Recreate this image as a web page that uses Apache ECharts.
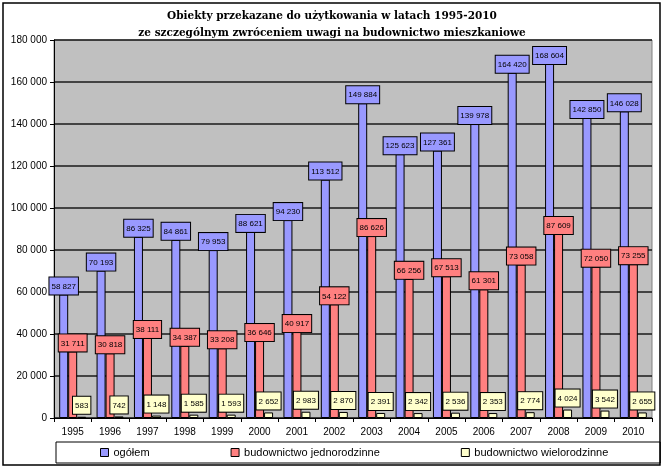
<!DOCTYPE html>
<html><head><meta charset="utf-8">
<script src="https://cdn.jsdelivr.net/npm/echarts@6/dist/echarts.min.js"></script>
<style>html,body{margin:0;padding:0;background:#fff}#c{width:664px;height:470px}</style>
</head><body><div id="c"></div>
<script>
var years = ['1995','1996','1997','1998','1999','2000','2001','2002','2003','2004','2005','2006','2007','2008','2009','2010'];
var ogolem = [58827,70193,86325,84861,79953,88621,94230,113512,149884,125623,127361,139978,164420,168604,142850,146028];
var jednorodzinne = [31711,30818,38111,34387,33208,36646,40917,54122,86626,66256,67513,61301,73058,87609,72050,73255];
var wielorodzinne = [583,742,1148,1585,1593,2652,2983,2870,2391,2342,2536,2353,2774,4024,3542,2655];
var seriesNames = ['ogółem','budownictwo jednorodzinne','budownictwo wielorodzinne'];
var titleLines = ['Obiekty przekazane do użytkowania w latach 1995-2010','ze szczególnym zwróceniem uwagi na budownictwo mieszkaniowe'];

function fmt(v){ return String(v).replace(/\B(?=(\d{3})+(?!\d))/g,' '); }
var colors = ['#9999ff','#ff8080','#ffffcc'];
var sans = "'Liberation Sans', Arial, sans-serif";
function mkSeries(name, data, color, dist){
  return {
    name: name, type: 'bar', data: data, barWidth: 9, barGap: '0%',
    itemStyle: {color: color, borderColor: '#000', borderWidth: 1},
    label: {show: true, position: 'top', distance: dist,
      formatter: function(p){ return fmt(p.value); },
      fontFamily: sans, fontSize: 8, color: '#000', lineHeight: 10,
      backgroundColor: color, borderColor: '#000', borderWidth: 1,
      padding: [4,2,3,2]},
    emphasis: {disabled: true}, animation: false
  };
}
var chart = echarts.init(document.getElementById('c'));
chart.setOption({
  animation: false,
  title: {text: titleLines.join('\n'), left: 'center', top: 3,
    textStyle: {fontFamily: 'DejaVu Serif', fontWeight: 'bold', fontSize: 10.5, lineHeight: 17, color: '#000'}},
  grid: {left: 54, right: 12, top: 40, bottom: 52, show: true, backgroundColor: '#c0c0c0', borderColor: '#808080', borderWidth: 1},
  legend: {data: seriesNames, bottom: 7, left: 56, itemGap: 81, itemWidth: 8, itemHeight: 8,
    icon: 'rect', backgroundColor: '#fff', borderColor: '#000', borderWidth: 1, padding: [5, 52, 5, 44],
    textStyle: {fontFamily: sans, fontSize: 11, color: '#000'},
    itemStyle: {borderColor: '#000', borderWidth: 1}},
  xAxis: {type: 'category', data: years,
    axisLine: {lineStyle: {color: '#000', width: 1}},
    axisTick: {show: true, alignWithLabel: false, length: 4, lineStyle: {color: '#000'}},
    axisLabel: {fontFamily: sans, fontSize: 10, color: '#000', margin: 9}},
  yAxis: {type: 'value', min: 0, max: 180000, interval: 20000,
    axisLine: {show: true, lineStyle: {color: '#000'}},
    axisTick: {show: true, length: 4, lineStyle: {color: '#000'}},
    splitLine: {lineStyle: {color: '#1a1a1a', width: 1.5}},
    axisLabel: {fontFamily: sans, fontSize: 10, color: '#000', margin: 7,
      formatter: function(v){ return fmt(v); }}},
  series: [
    mkSeries(seriesNames[0], ogolem, colors[0], 0),
    mkSeries(seriesNames[1], jednorodzinne, colors[1], 0),
    mkSeries(seriesNames[2], wielorodzinne, colors[2], 3)
  ],
  graphic: [{type: 'rect', shape: {x: 3, y: 3, width: 657, height: 462}, silent: true,
    style: {fill: null, stroke: '#000', lineWidth: 1.5}, z: 100}]
});
</script></body></html>
